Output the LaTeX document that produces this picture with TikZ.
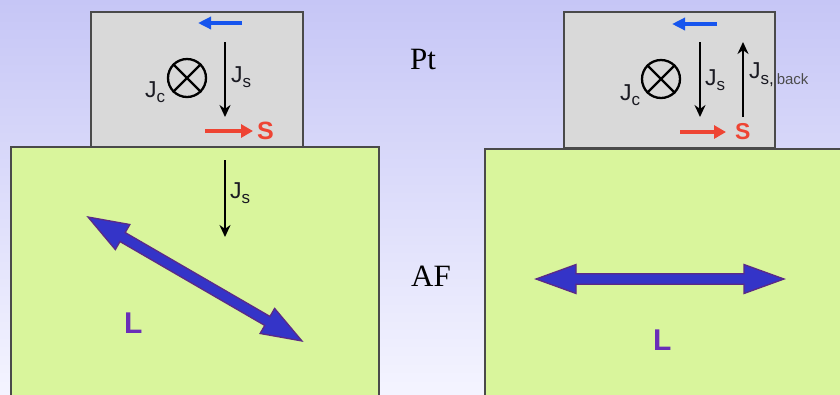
\documentclass[tikz,border=0pt]{standalone}
\usepackage{fontspec}
\setmainfont{Liberation Serif}
\newfontfamily\arialf{Liberation Sans}
\usetikzlibrary{arrows.meta}
\definecolor{bgtop}{HTML}{C6C6F6}
\definecolor{bgbot}{HTML}{F4F4FF}
\definecolor{ptfill}{HTML}{D9D9D9}
\definecolor{affill}{HTML}{D9F59C}
\definecolor{edgec}{HTML}{4A4A4A}
\definecolor{spinred}{HTML}{EE4433}
\definecolor{spinblue}{HTML}{1655EE}
\definecolor{lfillc}{HTML}{3434C8}
\definecolor{llinec}{HTML}{5B2A86}
\definecolor{lpurple}{HTML}{6A2DB8}
\definecolor{txtc}{HTML}{1A1A22}
\begin{document}
\begin{tikzpicture}[x=1bp,y=-1bp,
  layerbox/.style={draw=edgec,line width=1.6bp,inner sep=0pt,anchor=north west},
  ptbox/.style={layerbox,fill=ptfill},
  afbox/.style={layerbox,fill=affill},
  serifl/.style={inner sep=0pt,anchor=base,font=\fontsize{31bp}{31bp}\selectfont},
  jl/.style={inner sep=0pt,anchor=base west,text=txtc,font=\arialf\fontsize{23bp}{23bp}\selectfont},
  sl/.style={inner sep=0pt,anchor=base west,text=spinred,font=\arialf\bfseries\fontsize{25bp}{25bp}\selectfont},
  ll/.style={inner sep=0pt,anchor=base west,text=lpurple,font=\arialf\bfseries\fontsize{30bp}{30bp}\selectfont},
  jarrow/.style={draw=black,line width=2.5bp,-{Stealth[length=12bp,width=11bp]}},
  redarrow/.style={draw=spinred,line width=4bp,-{Triangle[length=12bp,width=13bp]}},
  bluearrow/.style={draw=spinblue,line width=4bp,-{Triangle[length=13bp,width=12bp]}},
  otimesc/.style={circle,draw=black,line width=2.3bp,minimum size=38bp,inner sep=0pt},
  pics/dblarrow/.style={code={
    \filldraw[fill=lfillc,draw=llinec,line width=1.3bp,line join=miter]
      (0,0) -- (40,-14.5) -- (40,-5.2) -- (#1-40,-5.2) -- (#1-40,-14.5) -- (#1,0)
      -- (#1-40,14.5) -- (#1-40,5.2) -- (40,5.2) -- (40,14.5) -- cycle;}}
]
\useasboundingbox (0,0) rectangle (840,394);
\clip (0,0) rectangle (840,394);
\shade[top color=bgtop,bottom color=bgbot] (0,0) rectangle (840,394);

% ---------- left stack ----------
\node[afbox,minimum width=368bp,minimum height=260bp] (af1) at (10,146) {};
\node[ptbox,minimum width=212bp,minimum height=135bp] (pt1) at (90,11) {};

\coordinate (b1s) at (242,23); \coordinate (b1e) at (198,23);
\draw[bluearrow] (b1s) -- (b1e);
\coordinate (d1s) at (225,42); \coordinate (d1e) at (225,117);
\draw[jarrow] (d1s) -- (d1e);
\node[jl] (js1) at (231,82) {J\raisebox{-5bp}{\fontsize{17bp}{17bp}\selectfont s}};
\node[otimesc] (ot1) at (187,78) {};
\draw[line width=2.3bp] (ot1.north west) -- (ot1.south east) (ot1.north east) -- (ot1.south west);
\node[jl] (jc1) at (145,97) {J\raisebox{-5bp}{\fontsize{17bp}{17bp}\selectfont c}};
\coordinate (r1s) at (205,131); \coordinate (r1e) at (253,131);
\draw[redarrow] (r1s) -- (r1e);
\node[sl] (s1) at (257,139) {S};

\coordinate (d2s) at (225,160); \coordinate (d2e) at (225,237);
\draw[jarrow] (d2s) -- (d2e);
\node[jl] (js2) at (230,198) {J\raisebox{-5bp}{\fontsize{17bp}{17bp}\selectfont s}};
\coordinate (la1) at (88,217);
\pic[rotate=-30.09] at (la1) {dblarrow=247.3};
\node[ll] (L1) at (124,333) {L};

% ---------- labels in the middle ----------
\node[serifl] (ptl) at (423,69) {Pt};
\node[serifl] (afl) at (431,286) {AF};

% ---------- right stack ----------
\node[afbox,minimum width=370bp,minimum height=260bp] (af2) at (484,148) {};
\node[ptbox,minimum width=211bp,minimum height=136bp] (pt2) at (563,11) {};

\coordinate (b2s) at (717,24); \coordinate (b2e) at (672,24);
\draw[bluearrow] (b2s) -- (b2e);
\coordinate (d3s) at (700,42); \coordinate (d3e) at (700,117);
\draw[jarrow] (d3s) -- (d3e);
\node[jl] (js3) at (705,85) {J\raisebox{-5bp}{\fontsize{17bp}{17bp}\selectfont s}};
\coordinate (u1s) at (743,117); \coordinate (u1e) at (743,42);
\draw[jarrow] (u1s) -- (u1e);
\node[jl] (jsb) at (749,78) {J\raisebox{-6bp}{\fontsize{17bp}{17bp}\selectfont s,\,\textcolor{black!70}{\fontsize{15bp}{15bp}\selectfont back}}};
\node[otimesc] (ot2) at (661,79) {};
\draw[line width=2.3bp] (ot2.north west) -- (ot2.south east) (ot2.north east) -- (ot2.south west);
\node[jl] (jc2) at (620,100) {J\raisebox{-5bp}{\fontsize{17bp}{17bp}\selectfont c}};
\coordinate (r2s) at (680,132); \coordinate (r2e) at (726,132);
\draw[redarrow] (r2s) -- (r2e);
\node[sl,font=\arialf\bfseries\fontsize{23bp}{23bp}\selectfont] (s2) at (735,139) {S};

\coordinate (la2) at (536,279);
\pic at (la2) {dblarrow=248};
\node[ll] (L2) at (653,350) {L};
\end{tikzpicture}
\end{document}
